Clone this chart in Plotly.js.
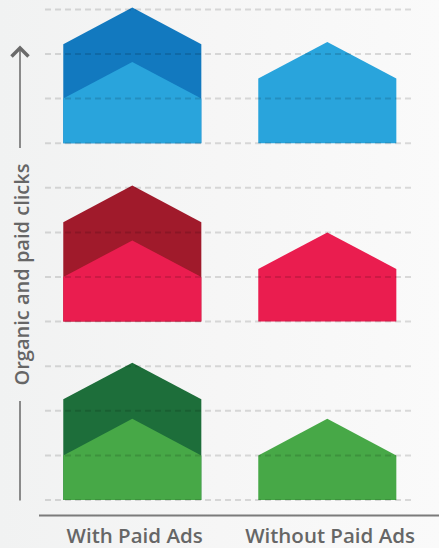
<!DOCTYPE html>
<html>
<head>
<meta charset="utf-8">
<script src="https://cdn.plot.ly/plotly-3.0.1.min.js"></script>
<style>
html,body{margin:0;padding:0;}
body{width:439px;height:548px;background:linear-gradient(90deg,#f1f2f2 0%,#f6f6f6 50%,#fafafa 100%);}
#chart{width:439px;height:548px;}
</style>
</head>
<body>
<div id="chart"></div>
<script>
// ---- data ----
const categories = ['With Paid Ads', 'Without Paid Ads'];
const rowNames = ['Blue row', 'Red row', 'Green row'];
const organicWithAds = [1.0, 1.0, 1.0];     // lower (light) house wall height, with paid ads
const totalWithAds   = [2.22, 2.23, 2.26];  // upper (dark) house wall height, organic + paid
const withoutAds     = [1.45, 1.18, 1.0];   // house wall height, without paid ads
const gridTicks = [0,1,2,3,4,5,6,7,8,9,10,11];

// ---- style ----
const lightColors = ['#29a4dc', '#ea1d4f', '#47a847'];
const darkColors  = ['#1279bf', '#a01a2b', '#1d6e3a'];
const rowBase = [8, 4, 0];
const halfW = 0.354;
const roof = 0.82;

function house(xc, base, h, color, name) {
  return {
    type: 'scatter', mode: 'lines', name: name,
    x: [xc - halfW, xc - halfW, xc, xc + halfW, xc + halfW, xc - halfW],
    y: [base, base + h, base + h + roof, base + h, base, base],
    fill: 'toself', fillcolor: color, line: {width: 0, color: color},
    hoverinfo: 'skip', showlegend: false
  };
}

const traces = [];
for (let r = 0; r < rowNames.length; r++) {
  traces.push(house(0, rowBase[r], totalWithAds[r], darkColors[r], rowNames[r] + ' total'));
  traces.push(house(0, rowBase[r], organicWithAds[r], lightColors[r], rowNames[r] + ' organic'));
  traces.push(house(1, rowBase[r], withoutAds[r], lightColors[r], rowNames[r] + ' without'));
}

const W = 439, H = 548, ml = 45, mr = 25, mt = 0, mb = 32;
const pw = W - ml - mr, ph = H - mt - mb;
const px = v => (v - ml) / pw;
const py = v => (H - mb - v) / ph;

const shapes = gridTicks.map(t => ({
  type: 'line', xref: 'paper', yref: 'y', x0: 0, x1: 1, y0: t, y1: t,
  line: {color: 'rgba(0,0,0,0.13)', width: 2, dash: '6px,4px'}, layer: 'above'
}));
// x axis line
shapes.push({type: 'line', xref: 'paper', yref: 'paper', x0: px(39), x1: px(445), y0: py(515.5), y1: py(515.5),
  line: {color: '#7b7b7b', width: 2}});
// y arrow
shapes.push({type: 'line', xref: 'paper', yref: 'paper', x0: px(20), x1: px(20), y0: py(49), y1: py(148),
  line: {color: '#8a8a8a', width: 2}});
shapes.push({type: 'path', xref: 'paper', yref: 'paper',
  path: 'M ' + px(11.5) + ' ' + py(56.5) + ' L ' + px(20) + ' ' + py(48) + ' L ' + px(28.5) + ' ' + py(56.5),
  line: {color: '#6a6a6a', width: 3.5}});
shapes.push({type: 'line', xref: 'paper', yref: 'paper', x0: px(20), x1: px(20), y0: py(401), y1: py(500.5),
  line: {color: '#8a8a8a', width: 2}});

const layout = {
  width: W, height: H,
  margin: {l: ml, r: mr, t: mt, b: mb, pad: 0},
  paper_bgcolor: 'rgba(0,0,0,0)', plot_bgcolor: 'rgba(0,0,0,0)',
  showlegend: false,
  font: {family: 'Open Sans', color: '#666666'},
  xaxis: {
    range: [-(132.3 - ml) / 195, (W - mr - 132.3) / 195],
    tickvals: [0.012, 1.014], ticktext: categories,
    tickfont: {family: 'Open Sans', size: 20.5, weight: 600, color: '#666666'},
    ticklabelstandoff: 5,
    showgrid: false, zeroline: false, showline: false, ticks: '',
    fixedrange: true
  },
  yaxis: {
    range: [-(516 - 500) / 44.6, 500 / 44.6],
    showgrid: false, zeroline: false, showline: false, showticklabels: false, ticks: '',
    fixedrange: true
  },
  shapes: shapes,
  annotations: [{
    text: 'Organic and paid clicks', textangle: -90,
    xref: 'paper', yref: 'paper', x: px(21), y: py(274.5),
    xanchor: 'center', yanchor: 'middle', showarrow: false,
    font: {family: 'Open Sans', size: 20, weight: 600, color: '#666666'}
  }]
};

Plotly.newPlot('chart', traces, layout, {displayModeBar: false, staticPlot: true});
</script>
</body>
</html>
